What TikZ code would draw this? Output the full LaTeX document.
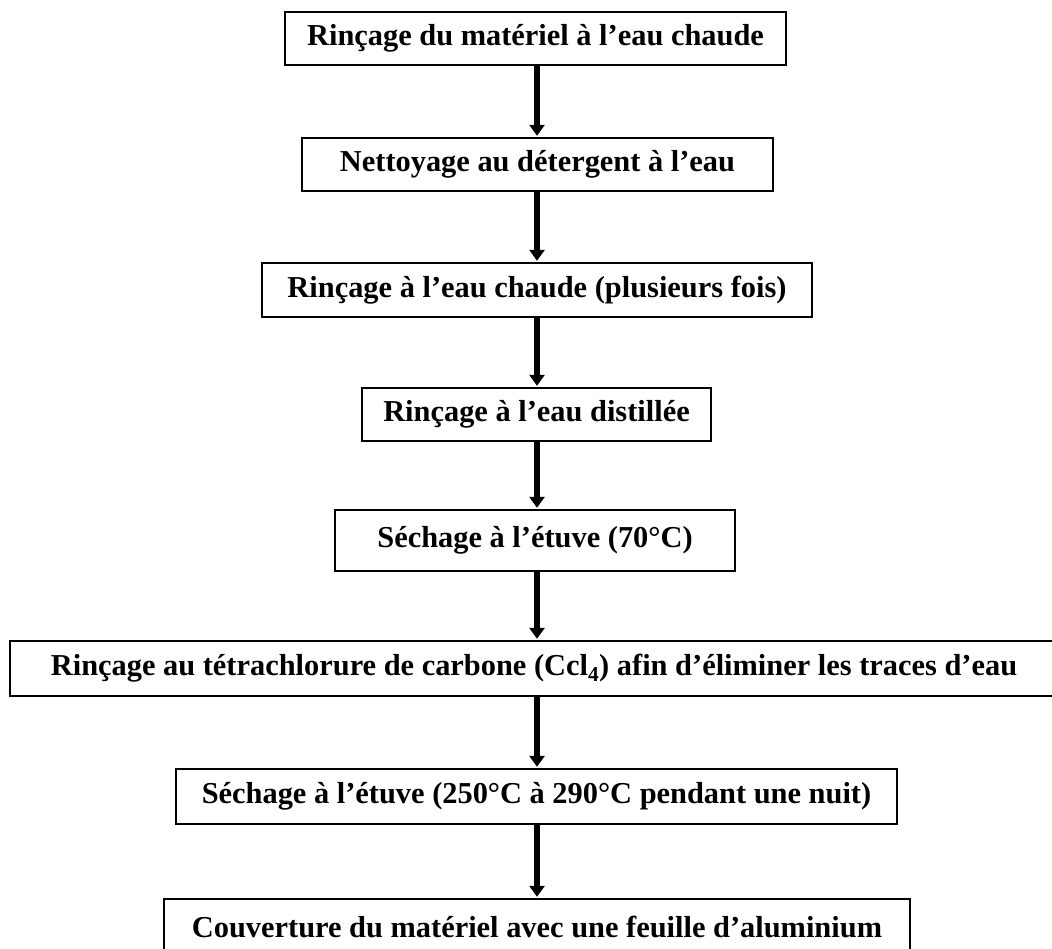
\documentclass[tikz,border=0pt]{standalone}
\usepackage{fontspec}
\setmainfont{Liberation Serif}
\usetikzlibrary{arrows.meta}
\tikzset{
  stepbox/.style={draw=black, line width=2.4pt, fill=white, rectangle, inner sep=0pt,
    font=\fontsize{30.4}{35}\selectfont\bfseries, text=black},
  flowarrow/.style={draw=black, line width=6pt, -{Triangle[length=11pt,width=15pt]}, shorten >=1pt}
}
\begin{document}
\begin{tikzpicture}[x=1pt,y=-1pt]
\useasboundingbox (0,0) rectangle (1052,949);
\fill[white] (0,0) rectangle (1052,949);
\node[stepbox, minimum width=501pt, minimum height=53pt] (b1) at (535.5,38.5) {Rinçage du matériel à l’eau chaude};
\node[stepbox, minimum width=471pt, minimum height=53pt] (b2) at (537.5,164.5) {Nettoyage au détergent à l’eau};
\node[stepbox, minimum width=550pt, minimum height=54pt] (b3) at (537,290) {Rinçage à l’eau chaude (plusieurs fois)};
\node[stepbox, minimum width=349pt, minimum height=53pt] (b4) at (536.5,414.5) {Rinçage à l’eau distillée};
\node[stepbox, minimum width=400pt, minimum height=61pt] (b5) at (535,540.5) {Séchage à l’étuve (70°C)};
\node[stepbox, minimum width=1048pt, minimum height=55pt] (b6) at (534,668.5) {Rinçage au tétrachlorure de carbone (Ccl\textsubscript{4}) afin d’éliminer les traces d’eau};
\node[stepbox, minimum width=721pt, minimum height=55pt] (b7) at (536.5,796.5) {Séchage à l’étuve (250°C à 290°C pendant une nuit)};
\node[stepbox, minimum width=746pt, minimum height=56pt] (b8) at (537,927) {Couverture du matériel avec une feuille d’aluminium};
\coordinate (ax) at (537,0);
\draw[flowarrow] (b1.south -| ax) -- (b2.north -| ax);
\draw[flowarrow] (b2.south -| ax) -- (b3.north -| ax);
\draw[flowarrow] (b3.south -| ax) -- (b4.north -| ax);
\draw[flowarrow] (b4.south -| ax) -- (b5.north -| ax);
\draw[flowarrow] (b5.south -| ax) -- (b6.north -| ax);
\draw[flowarrow] (b6.south -| ax) -- (b7.north -| ax);
\draw[flowarrow] (b7.south -| ax) -- (b8.north -| ax);
\end{tikzpicture}
\end{document}
